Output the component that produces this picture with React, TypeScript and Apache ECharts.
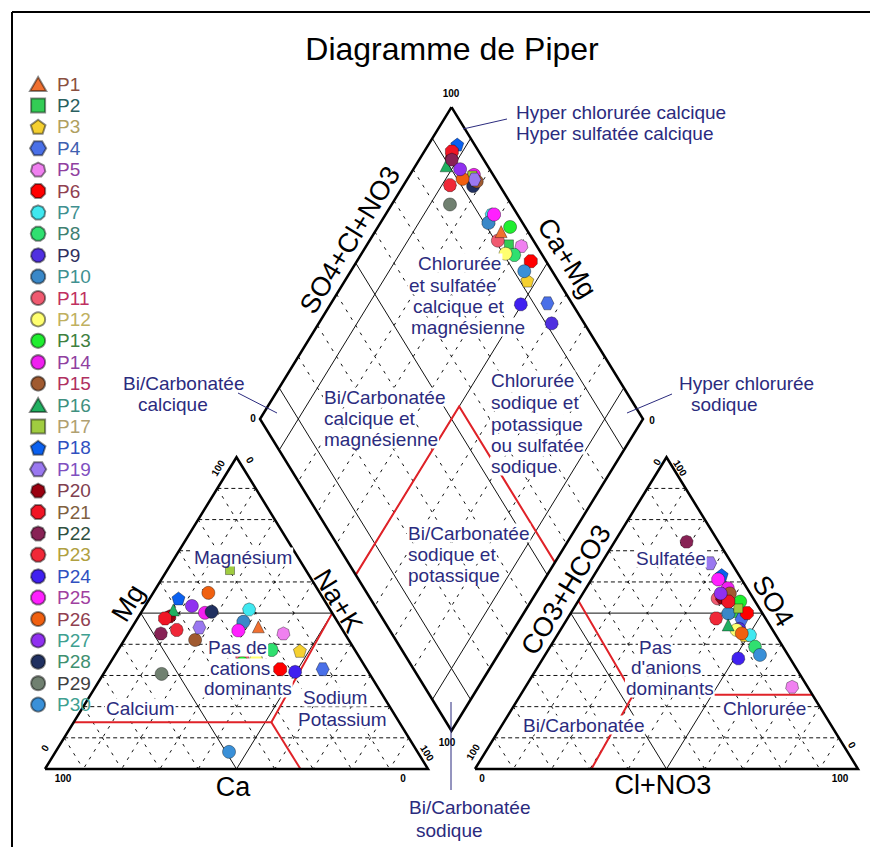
import React, { useEffect, useRef } from "react";
import * as echarts from "echarts";

// ---------------- data ----------------
const sampleNames = [
  "P1", "P2", "P3", "P4", "P5", "P6", "P7", "P8", "P9", "P10",
  "P11", "P12", "P13", "P14", "P15", "P16", "P17", "P18", "P19", "P20",
  "P21", "P22", "P23", "P24", "P25", "P26", "P27", "P28", "P29", "P30",
];
// cations (% meq)
const caPct = [21.5, 26, 14.5, 11.5, 16, 22.6, 21.1, 21.7, 16.2, 24.6, 30.5, 27.4, 31.5, 33.2, 40.1, 41, 19.8, 37.8, 37, 43, 44.5, 48, 43.3, 19.1, 27.3, 29.1, 35.5, 31.3, 54.3, 49.2];
const mgPct = [45.6, 37, 37.9, 32, 43.5, 32, 51.2, 38.2, 23, 47.2, 36, 35, 34, 50.1, 41.4, 51, 63.8, 54.7, 45.4, 49, 48.3, 43.5, 44.6, 31.2, 44.4, 56.5, 52.3, 50.4, 30.5, 5.5];
const nakPct = [32.9, 37, 47.6, 56.5, 40.5, 45.4, 27.7, 40.1, 60.8, 28.2, 33.5, 37.6, 34.5, 16.7, 18.5, 8, 16.4, 7.5, 17.6, 8, 7.2, 8.5, 12.1, 49.7, 28.3, 14.4, 12.2, 18.3, 15.2, 45.3];
// anions (% meq)
const clPct = [36.7, 43, 49, 45.6, 69.6, 46, 50.3, 53.5, 46.5, 41.2, 36, 46, 42.4, 37, 38.4, 43, 43, 33.3, 28.4, 37, 39.3, 18.8, 38.8, 51, 33.1, 47.9, 36, 39.3, 16.3, 56.1];
const so4Pct = [56.3, 50, 43, 48, 26.4, 50, 43, 39.2, 45, 49.9, 54.7, 44.6, 53.7, 58, 56.3, 46.2, 51.5, 62.2, 66, 55, 53.7, 72.9, 48.3, 35.5, 60.8, 43.5, 56.3, 53.7, 67.7, 36.6];
const hco3Pct = [7, 7, 8, 6.4, 4, 4, 6.7, 7.3, 8.5, 8.9, 9.3, 9.4, 3.9, 5, 5.3, 10.8, 5.5, 4.5, 5.6, 8, 7, 8.3, 12.9, 13.5, 6.1, 8.6, 7.7, 7, 16, 7.3];

const markerColors = [
  "#F07030", "#33CC55", "#F5D030", "#4A70E8", "#F080F0", "#FF0000", "#40E8F0", "#30E070", "#5030E0", "#3A88C8",
  "#F05A70", "#FFFF70", "#20EE30", "#F020F0", "#A05A30", "#20B060", "#A0CC40", "#0A60F0", "#9A78F0", "#9A0010",
  "#F01525", "#882255", "#F02838", "#4020F0", "#FF20FF", "#F06010", "#9030F0", "#203060", "#708070", "#3A90D8",
];
const legendTextColors = [
  "#8A5040", "#2A6060", "#B0A060", "#4060B0", "#9040A0", "#904050", "#409090", "#408070", "#303060", "#409090",
  "#C03060", "#C0B060", "#408040", "#9040A0", "#B03060", "#409080", "#B0A070", "#3050C0", "#8050C0", "#804050",
  "#806040", "#305040", "#B0A040", "#3050C0", "#A040A0", "#904050", "#40A090", "#409070", "#404040", "#40A090",
];
const backSamples = ["P29", "P28", "P20", "P14", "P11"];

const gridSteps = [10, 20, 30, 40, 50, 60, 70, 80, 90];

// classification boundaries
const cationRedMain = [[85, 15, 0], [33.4, 15, 51.6], [0, 50, 50]]; // [Ca, Mg, Na+K]
const cationRedFoot = [[33.4, 15, 51.6], [33.3, 0, 66.7]];
const anionRedMain = [[0, 54, 46], [29.4, 23.8, 46.8], [76.2, 23.8, 0]]; // [Cl, SO4, HCO3]
const anionRedFoot = [[29.4, 23.8, 46.8], [30.4, 0, 69.6]];
const diamondRed = [[50, 100], [50, 46], [100, 46]]; // [Na+K, HCO3]

const regionTexts: [string, number, number][] = [
  ["Hyper chlorurée calcique", 515, 112],
  ["Hyper sulfatée calcique", 515, 133],
  ["Chlorurée", 417, 263], ["et sulfatée", 408, 285], ["calcique et", 412, 306], ["magnésienne", 410, 327],
  ["Bi/Carbonatée", 323, 397], ["calcique et", 323, 418], ["magnésienne", 323, 439],
  ["Chlorurée", 490, 380], ["sodique et", 490, 402], ["potassique", 490, 424], ["ou sulfatée", 490, 445], ["sodique", 490, 466],
  ["Bi/Carbonatée", 407, 533], ["sodique et", 407, 554], ["potassique", 407, 575],
  ["Bi/Carbonatée", 122, 383], ["calcique", 137, 404],
  ["Hyper chlorurée", 678, 383], ["sodique", 690, 404],
  ["Bi/Carbonatée", 408, 807], ["sodique", 415, 830],
  ["Magnésium", 193, 557],
  ["Pas de", 207, 647], ["cations", 209, 668], ["dominants", 203, 688],
  ["Sodium", 302, 697], ["Potassium", 297, 719],
  ["Calcium", 105, 708],
  ["Sulfatée", 635, 558],
  ["Pas", 638, 647], ["d'anions", 630, 667], ["dominants", 625, 688],
  ["Chlorurée", 722, 708],
  ["Bi/Carbonatée", 522, 725],
];
const axisTitles: [string, number, number, number][] = [
  ["Mg", 128, 603, 58.5], ["Na+K", 338, 601, -58.5], ["Ca", 233, 787, 0],
  ["CO3+HCO3", 566, 590, 58.5], ["SO4", 773, 601, -58.5], ["Cl+NO3", 663, 785, 0],
  ["SO4+Cl+NO3", 350, 240, 58.5], ["Ca+Mg", 567, 258, -58.5],
];
const tickTexts: [string, number, number, number][] = [
  ["100", 63, 778, 0], ["0", 403, 778, 0], ["0", 45, 748, 58.5], ["100", 218, 468, 58.5], ["0", 250, 460, -58.5], ["100", 427, 753, -58.5],
  ["0", 482, 778, 0], ["100", 840, 778, 0], ["100", 473, 752, 58.5], ["0", 657, 462, 58.5], ["100", 680, 468, -58.5], ["0", 852, 745, -58.5],
  ["100", 451, 93, 0], ["0", 253, 418, 0], ["0", 652, 420, 0], ["100", 447, 742, 0],
];
const pointerLines = [
  [463, 129, 507, 119],
  [238, 393, 277, 413],
  [627, 413, 672, 394],
  [451, 702, 451, 790],
];

// ---------------- geometry ----------------
const GAP = 12.27;
const S60 = Math.sqrt(3) / 2;
const cat = (ca: number, mg: number, nak: number) => {
  const t = ca + mg + nak;
  const m = (mg / t) * 100, n = (nak / t) * 100;
  return [n + m / 2, m * S60];
};
const ani = (cl: number, so4: number, hco3: number) => {
  const t = cl + so4 + hco3;
  const c = (cl / t) * 100, s = (so4 / t) * 100;
  return [100 + GAP + c + s / 2, s * S60];
};
const dia = (nak: number, hco3: number) => [
  (200 + GAP - hco3 + nak) / 2,
  S60 * (200 + GAP - hco3 - nak),
];

const polyPath = (n: number) => {
  const start = n % 2 === 0 ? -Math.PI / 2 + Math.PI / n : -Math.PI / 2;
  let d = "";
  for (let k = 0; k < n; k++) {
    const a = start + (2 * Math.PI * k) / n;
    d += (k ? "L" : "M") + Math.cos(a).toFixed(3) + "," + Math.sin(a).toFixed(3) + " ";
  }
  return "path://" + d + "Z";
};
const symbolFor = (i: number) => {
  const s = 3 + (i % 15);
  if (s === 3) return "triangle";
  if (s === 4) return "rect";
  if (s <= 12) return polyPath(s);
  return "circle";
};
const legendIconFor = (i: number) => {
  const s = 3 + (i % 15);
  if (s === 3) return "path://M0,0 L0.58,1 L-0.58,1 Z";
  if (s === 4) return "path://M0,0 L1,0 L1,1 L0,1 Z";
  return symbolFor(i);
};
const sizeFor = (i: number) => {
  const s = 3 + (i % 15);
  if (s === 3) return 12;
  if (s === 4) return 9;
  return 13;
};

const FONT = '"Liberation Sans", Arial, sans-serif';
const NAVY = "#2B2B7E";

function buildOption() {
  const dashH: number[][][] = [];
  const dashD: number[][][] = [];
  const thin: number[][][] = [];
  for (const v of gridSteps) {
    const h = [cat(100 - v, v, 0), cat(0, v, 100 - v)];
    const d1 = [cat(v, 100 - v, 0), cat(v, 0, 100 - v)];
    const d2 = [cat(0, 100 - v, v), cat(100 - v, 0, v)];
    const ah = [ani(0, v, 100 - v), ani(100 - v, v, 0)];
    const ad1 = [ani(v, 100 - v, 0), ani(v, 0, 100 - v)];
    const ad2 = [ani(0, 100 - v, v), ani(100 - v, 0, v)];
    const dd1 = [dia(v, 0), dia(v, 100)];
    const dd2 = [dia(0, v), dia(100, v)];
    if (v === 50) {
      thin.push(h, d1, d2, ah, ad1, ad2, dd1, dd2);
    } else {
      dashH.push(h, ah);
      dashD.push(d1, d2, ad1, ad2);
      if (v === 10 || v === 90) thin.push(dd1, dd2);
      else dashD.push(dd1, dd2);
    }
  }
  const outlines = [
    [cat(100, 0, 0), cat(0, 0, 100), cat(0, 100, 0), cat(100, 0, 0)],
    [ani(0, 0, 100), ani(100, 0, 0), ani(0, 100, 0), ani(0, 0, 100)],
    [dia(0, 0), dia(100, 0), dia(100, 100), dia(0, 100), dia(0, 0)],
  ];
  const reds = [
    cationRedMain.map((p) => cat(p[0], p[1], p[2])),
    cationRedFoot.map((p) => cat(p[0], p[1], p[2])),
    anionRedMain.map((p) => ani(p[0], p[1], p[2])),
    anionRedFoot.map((p) => ani(p[0], p[1], p[2])),
    diamondRed.map((p) => dia(p[0], p[1])),
  ];

  const linesSeries = (data: number[][][], lineStyle: any, z: number) => ({
    type: "lines",
    coordinateSystem: "cartesian2d",
    polyline: true,
    silent: true,
    clip: false,
    z,
    lineStyle: { opacity: 1, ...lineStyle },
    data: data.map((c) => ({ coords: c })),
  });

  const scatterSeries = sampleNames.map((name, i) => {
    const ca = caPct[i], mg = mgPct[i], nak = nakPct[i];
    const cl = clPct[i], so4 = so4Pct[i], hc = hco3Pct[i];
    const tc = ca + mg + nak, ta = cl + so4 + hc;
    return {
      type: "scatter",
      name,
      symbol: symbolFor(i),
      symbolSize: sizeFor(i),
      clip: false,
      z: backSamples.includes(name) ? 3 : 4,
      itemStyle: { color: markerColors[i], borderColor: "rgba(0,0,0,0.45)", borderWidth: 0.8, opacity: 1 },
      data: [cat(ca, mg, nak), ani(cl, so4, hc), dia((nak / tc) * 100, (hc / ta) * 100)],
    };
  });

  const graphics: any[] = [];
  graphics.push(
    { type: "line", z: 60, shape: { x1: 12, y1: 12, x2: 12, y2: 847 }, style: { stroke: "#000", lineWidth: 2 } },
    { type: "line", z: 60, shape: { x1: 12, y1: 12, x2: 870, y2: 12 }, style: { stroke: "#000", lineWidth: 2 } }
  );
  for (const [x1, y1, x2, y2] of pointerLines) {
    graphics.push({ type: "line", z: 60, shape: { x1, y1, x2, y2 }, style: { stroke: NAVY, lineWidth: 1 } });
  }
  for (const [text, x, y] of regionTexts) {
    graphics.push({
      type: "text", x, y, z: 50,
      style: {
        text, fill: NAVY, font: `19px ${FONT}`,
        textAlign: "left", textVerticalAlign: "middle", align: "left", verticalAlign: "middle",
        backgroundColor: "#ffffff", padding: [0, 1],
      },
    });
  }
  for (const [text, x, y, rot] of axisTitles) {
    graphics.push({
      type: "text", x, y, z: 50, rotation: (rot * Math.PI) / 180,
      style: {
        text, fill: "#000", font: `27px ${FONT}`,
        textAlign: "center", textVerticalAlign: "middle", align: "center", verticalAlign: "middle",
      },
    });
  }
  for (const [text, x, y, rot] of tickTexts) {
    graphics.push({
      type: "text", x, y, z: 50, rotation: (rot * Math.PI) / 180,
      style: {
        text, fill: "#000", font: `bold 10px ${FONT}`,
        textAlign: "center", textVerticalAlign: "middle", align: "center", verticalAlign: "middle",
      },
    });
  }

  return {
    animation: false,
    backgroundColor: "#ffffff",
    title: {
      text: "Diagramme de Piper",
      left: 452,
      top: 33,
      textAlign: "center",
      padding: 0,
      textStyle: { fontSize: 32, fontWeight: "normal", color: "#000", fontFamily: FONT },
    },
    legend: {
      orient: "vertical",
      left: 29,
      top: 74.5,
      padding: 0,
      itemWidth: 28,
      itemHeight: 14,
      itemGap: 2.4,
      selectedMode: false,
      textStyle: { fontSize: 19, lineHeight: 19, fontFamily: FONT },
      data: sampleNames.map((n, i) => ({
        name: n,
        icon: legendIconFor(i),
        textStyle: { color: legendTextColors[i], fontSize: 19, fontFamily: FONT },
      })),
    },
    grid: { left: 45, right: 12, top: 85, bottom: 78 },
    xAxis: { type: "value", min: 0, max: 200 + GAP, show: false },
    yAxis: { type: "value", min: 0, max: 190, show: false },
    graphic: { elements: graphics },
    series: [
      linesSeries(dashH, { color: "#111", width: 1, type: [4, 3] }, 1),
      linesSeries(dashD, { color: "#111", width: 1, type: [3, 6] }, 1),
      linesSeries(thin, { color: "#111", width: 1, type: "solid" }, 1),
      linesSeries(reds, { color: "#E02228", width: 2, type: "solid" }, 2),
      linesSeries(outlines, { color: "#000", width: 2.5, type: "solid" }, 2),
      ...scatterSeries,
    ],
  };
}

export default function App() {
  const ref = useRef<HTMLDivElement>(null);
  useEffect(() => {
    if (!ref.current) return;
    const chart = echarts.init(ref.current, null, { renderer: "svg" });
    chart.setOption(buildOption() as any);
    return () => chart.dispose();
  }, []);
  return (
    <div
      ref={ref}
      style={{ position: "absolute", left: 0, top: 0, width: 870, height: 847, background: "#fff" }}
    />
  );
}
